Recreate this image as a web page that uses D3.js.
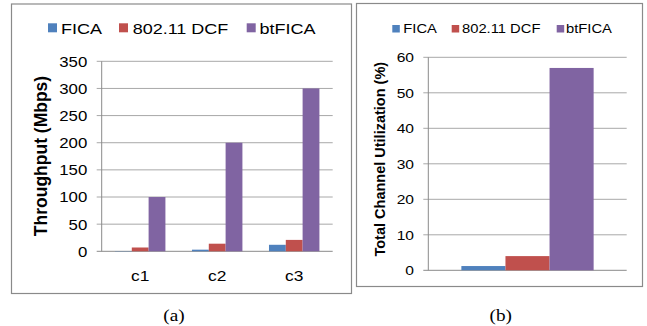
<!DOCTYPE html>
<html><head><meta charset="utf-8">
<script src="https://cdn.jsdelivr.net/npm/d3@7"></script>
<style>body{margin:0;background:#fff}svg{display:block}</style>
</head><body>
<svg id="c" width="647" height="326"></svg>
<script>
// ---- data ----
const series = ["FICA", "802.11 DCF", "btFICA"];
const colors = ["#4F81BD", "#C0504D", "#8064A2"];
const catsA = ["c1", "c2", "c3"];
const ficaA = [0.5, 3, 12];
const dcfA = [7, 14, 21];
const btficaA = [100, 200, 300];
const ticksA = [0, 50, 100, 150, 200, 250, 300, 350];
const catsB = [""];
const ficaB = [1.2];
const dcfB = [4.0];
const btficaB = [57.0];
const ticksB = [0, 10, 20, 30, 40, 50, 60];

const svg = d3.select("#c");
const SX = 1.2;
const font = "'Liberation Sans', Arial, sans-serif";

function frame(x0, y0, x1, y1) {
  svg.append("rect").attr("x", x0).attr("y", y0).attr("width", x1 - x0).attr("height", y1 - y0)
    .attr("fill", "none").attr("stroke", "#8a8a8a").attr("stroke-width", 1.2);
}
function stext(g, x, y, txt, size, anchor, family, weight) {
  return g.append("text").attr("transform", `translate(${x},${y}) scale(${SX},1)`)
    .attr("text-anchor", anchor || "start").attr("font-family", family || font)
    .attr("font-size", size).attr("font-weight", weight || "normal").attr("fill", "#000").text(txt);
}

function panel(o) {
  const g = svg.append("g").attr("transform", `translate(${o.left},${o.top})`);
  const w = o.right - o.left, h = o.bottom - o.top;
  const y = d3.scaleLinear().domain([0, o.max]).range([h, 0]);
  const x0 = d3.scaleBand().domain(o.cats).range([0, w]).padding(0);
  const x1 = d3.scaleBand().domain(series).range([0, x0.bandwidth()]).paddingInner(0).paddingOuter(o.pad);
  // gridlines
  g.append("g").selectAll("line").data(o.ticks).join("line")
    .attr("x1", -5).attr("x2", w).attr("y1", d => y(d)).attr("y2", d => y(d))
    .attr("stroke", d => d === 0 ? "#8a8a8a" : "#a8a8a8").attr("stroke-width", 1);
  // axis line
  g.append("line").attr("x1", 0).attr("x2", 0).attr("y1", 0).attr("y2", h).attr("stroke", "#8a8a8a");
  // tick labels via d3 axis
  const ax = g.append("g").call(d3.axisLeft(y).tickValues(o.ticks).tickSize(0).tickPadding(0));
  ax.select(".domain").remove();
  ax.selectAll(".tick text").attr("x", 0).attr("dy", "0.35em")
    .attr("transform", `translate(${-o.tickGap},0) scale(${SX},1)`)
    .attr("font-family", font).attr("font-size", o.tickSize).attr("fill", "#000");
  // bars
  const vals = [o.s0, o.s1, o.s2];
  const rows = o.cats.map((c, i) => ({c, v: vals.map(a => a[i])}));
  const grp = g.selectAll(".grp").data(rows).join("g").attr("transform", d => `translate(${x0(d.c)},0)`);
  grp.selectAll("rect").data(d => d.v.map((v, k) => ({k, v}))).join("rect")
    .attr("x", d => x1(series[d.k])).attr("width", x1.bandwidth())
    .attr("y", d => y(d.v)).attr("height", d => h - y(d.v)).attr("fill", d => colors[d.k]);
  // category labels
  if (o.showCats) {
    o.cats.forEach(c => stext(g, x0(c) + x0.bandwidth() / 2, h + o.catDy, c, o.catSize, "middle"));
  }
  // y title
  g.append("text").attr("transform", `translate(${o.titleX - o.left},${o.titleY - o.top}) rotate(-90)`)
    .attr("text-anchor", "middle").attr("font-family", font).attr("font-weight", "bold")
    .attr("font-size", o.titleSize).text(o.title);
  // legend
  series.forEach((s, k) => {
    svg.append("rect").attr("x", o.leg[k][0]).attr("y", o.legY).attr("width", o.legSq).attr("height", o.legSq).attr("fill", colors[k]);
    stext(svg, o.leg[k][1], o.legBase, s, o.legSize, "start");
  });
}

frame(11.5, 4, 351.5, 293.5);
frame(356.5, 3.5, 642.5, 286.5);

panel({left: 101.7, right: 332.7, top: 61.3, bottom: 251.3, max: 350, ticks: ticksA,
  cats: catsA, s0: ficaA, s1: dcfA, s2: btficaA, pad: 0.79, tickGap: 14.4, tickSize: 14,
  showCats: true, catDy: 29.5, catSize: 14.5,
  title: "Throughput (Mbps)", titleX: 47, titleY: 156, titleSize: 17.5,
  leg: [[48, 61], [119, 132.7], [246.7, 259.5]], legY: 23.3, legSq: 9, legBase: 34, legSize: 15});

panel({left: 428.3, right: 626.7, top: 57.3, bottom: 270.3, max: 60, ticks: ticksB,
  cats: catsB, s0: ficaB, s1: dcfB, s2: btficaB, pad: 0.75, tickGap: 14.3, tickSize: 13,
  showCats: false,
  title: "Total Channel Utilization (%)", titleX: 385, titleY: 159.2, titleSize: 14.5,
  leg: [[392.3, 403.3], [451.7, 462], [556.7, 566]], legY: 25, legSq: 7.5, legBase: 32.7, legSize: 12.3});

stext(svg, 174, 320.5, "(a)", 16, "middle", "'Liberation Serif', 'Times New Roman', serif");
stext(svg, 500.7, 320.5, "(b)", 16, "middle", "'Liberation Serif', 'Times New Roman', serif");
</script>
</body></html>
